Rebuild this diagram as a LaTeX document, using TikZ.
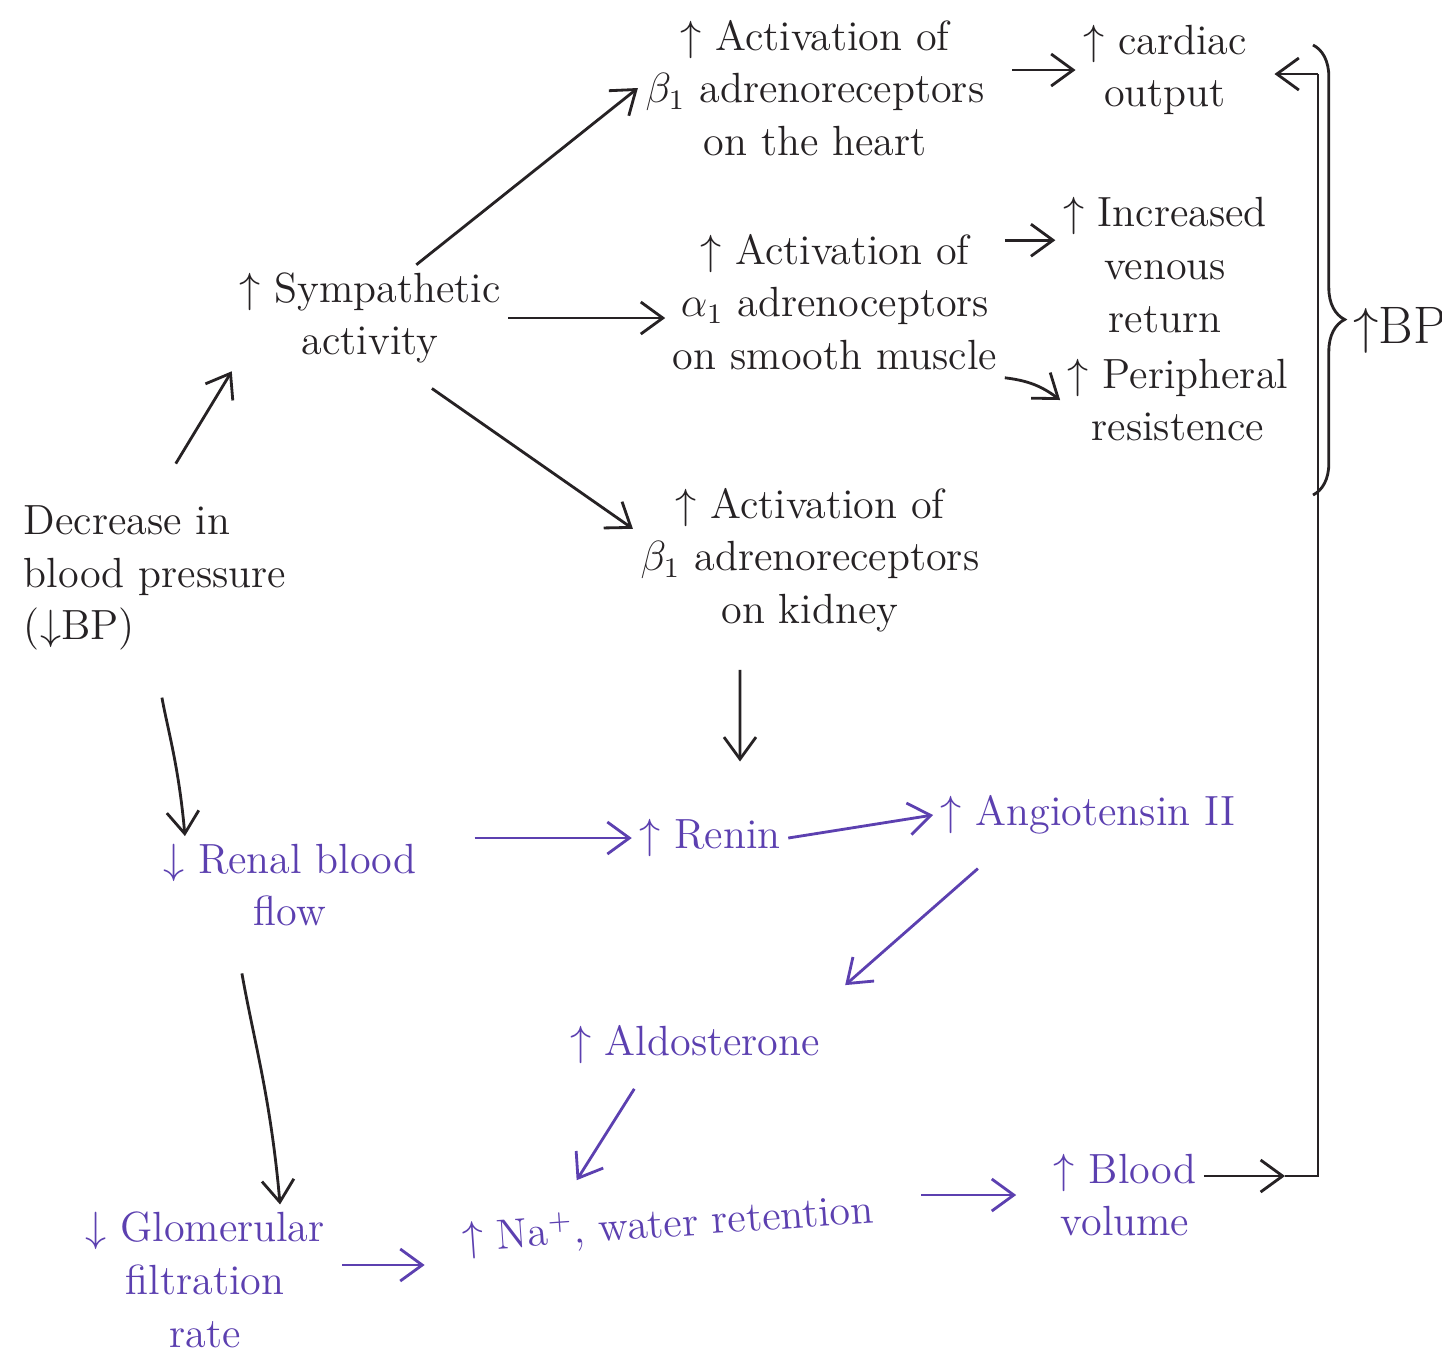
\documentclass[tikz,border=0pt]{standalone}
\usepackage{amsfonts}
\usepackage{amssymb}
\usetikzlibrary{arrows.meta,decorations.pathreplacing}
\definecolor{ink}{RGB}{38,34,36}
\definecolor{penblue}{RGB}{92,64,176}

\begin{document}
\begin{tikzpicture}[x=0.01cm,y=-0.01cm,
  every node/.style={font=\fontsize{12}{15}\selectfont,text=ink,align=center,inner sep=2pt},
  bluetxt/.style={text=penblue},
  arr/.style={draw=ink,thick,-{Straight Barb[length=2.2mm,width=3.2mm]}},
  barr/.style={arr,draw=penblue}]
\fill[white] (0,0) rectangle (1442,1365);
\useasboundingbox (0,0) rectangle (1442,1365);

\node (heart) at (815,88) {$\uparrow$ Activation of\\$\beta_1$ adrenoreceptors\\on the heart};
\node (cardiac) at (1165,70) {$\uparrow$ cardiac\\output};
\node (symp) at (370,318) {$\uparrow$ Sympathetic\\activity};
\node (alpha) at (835,302) {$\uparrow$ Activation of\\$\alpha_1$ adrenoceptors\\on smooth muscle};
\node (venous) at (1165,265) {$\uparrow$ Increased\\venous\\return};
\node (periph) at (1178,400) {$\uparrow$ Peripheral\\resistence};
\node (kidney) at (810,560) {$\uparrow$ Activation of\\$\beta_1$ adrenoreceptors\\on kidney};
\node[align=left] (bp) at (155,578) {Decrease in\\blood pressure\\($\downarrow$BP)};
\node[font=\fontsize{15}{18}\selectfont] (bpup) at (1400,330) {$\uparrow$BP};

\node[bluetxt] (renal) at (290,885) {$\downarrow$ Renal blood\\flow};
\node[bluetxt] (renin) at (710,838) {$\uparrow$ Renin};
\node[bluetxt] (angio) at (1088,815) {$\uparrow$ Angiotensin II};
\node[bluetxt] (aldo) at (695,1045) {$\uparrow$ Aldosterone};
\node[bluetxt,rotate=4] (na) at (668,1225) {$\uparrow$ Na$^+$, water retention};
\node[bluetxt] (blood) at (1125,1195) {$\uparrow$ Blood\\volume};
\node[bluetxt] (gfr) at (205,1280) {$\downarrow$ Glomerular\\filtration\\rate};

\coordinate (tip) at (1285,1176);
\coordinate (bend1) at (1318,1176);
\coordinate (bend2) at (1318,74);

\draw[arr,shorten <=4mm] (bp.north) -- (symp.south west);
\draw[arr] (symp.49) -- (heart.west);
\draw[arr] (symp.east) -- (alpha.west |- symp.east);
\draw[arr,shorten <=3mm] (symp.-55) -- (kidney.170);
\draw[arr,shorten <=2mm] (heart.east |- cardiac.west) -- (cardiac.west);
\draw[arr] (alpha.20) -- (alpha.20 -| venous.west);
\draw[arr] (alpha.south east) to[bend left=15] (periph.west);
\draw[arr,shorten <=3mm,shorten >=5mm] ([xshift=-7mm]kidney.south) -- ([xshift=3mm]renin.north);
\draw[arr,shorten <=4mm] (bp.south) to[out=-80,in=95] ([xshift=-1.05cm]renal.north);
\draw[arr,shorten <=4mm] ([xshift=-5.5mm]renal.south) to[out=-80,in=95] ([xshift=7.5mm]gfr.north);

\draw[barr,shorten <=5mm] (renal.east |- renin.west) -- (renin.west);
\draw[barr] (renin.east) -- (angio.west);
\draw[barr,shorten <=4mm,shorten >=5mm] ([xshift=-8mm]angio.south) -- ([xshift=-2mm]aldo.north east);
\draw[barr,shorten <=2mm,shorten >=2mm] ([xshift=-5mm]aldo.south) -- ([xshift=-1cm]na.north);
\draw[barr,shorten <=1mm,shorten >=3mm] ([yshift=1.5mm]gfr.east) -- ([yshift=1.5mm]gfr.east -| na.west);
\draw[barr,shorten <=4mm,shorten >=3mm] (na.east |- blood.west) -- (blood.west);

\draw[arr] (blood.east |- tip) -- (tip);
\draw[ink,thick] (tip) -- (bend1) -- (bend2);
\draw[arr,shorten >=2mm] (bend2) -- (cardiac.east |- bend2);
\draw[ink,thick,decorate,decoration={brace,amplitude=9pt,aspect=0.61}] (1313,45) -- (1313,495);
\end{tikzpicture}
\end{document}
